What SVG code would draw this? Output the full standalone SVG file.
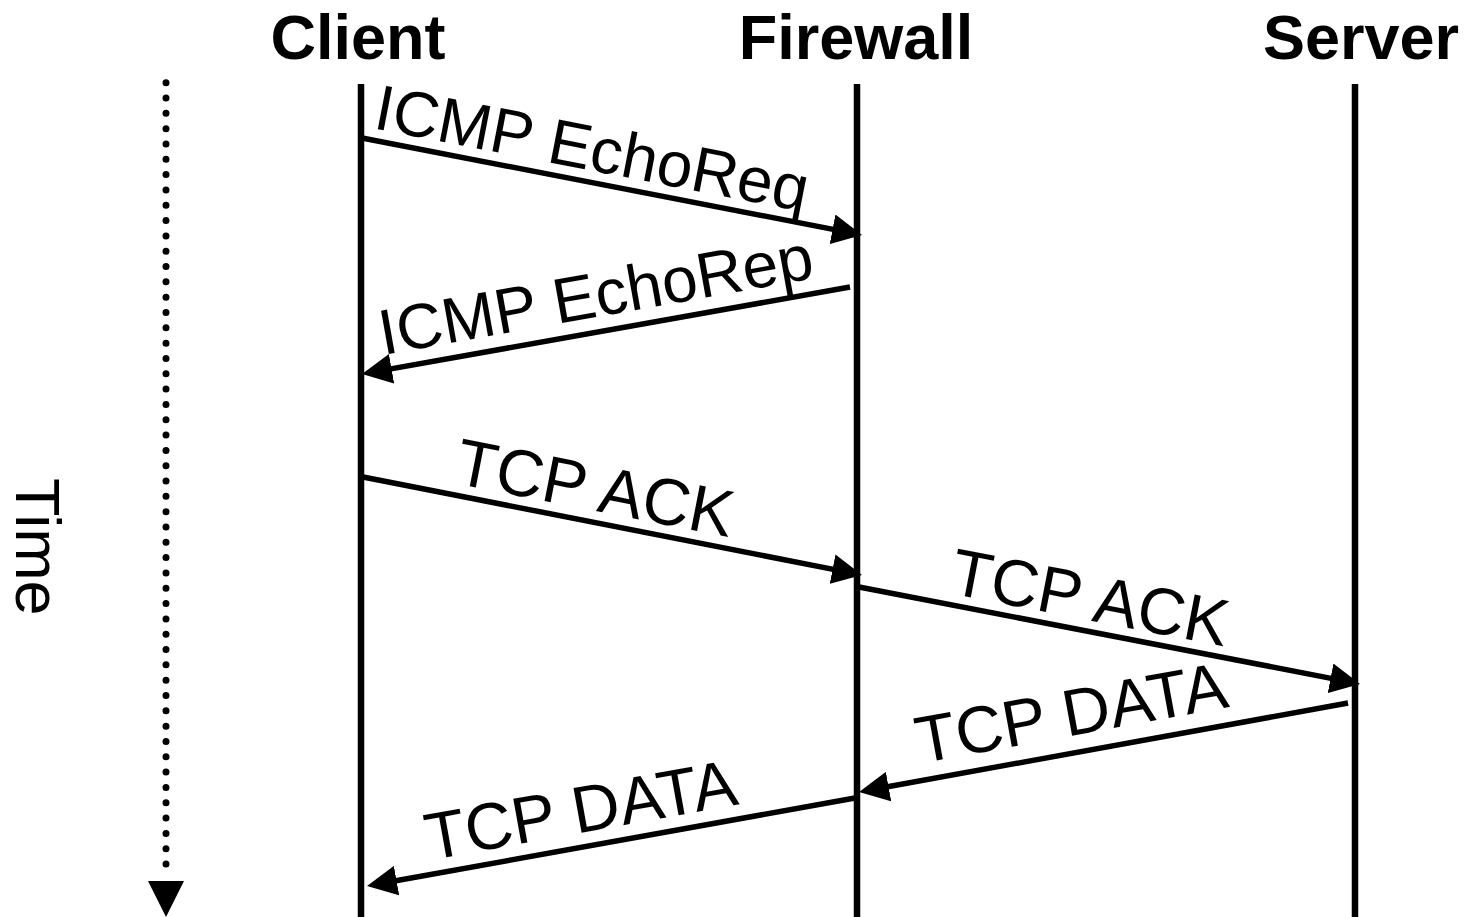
<svg xmlns="http://www.w3.org/2000/svg" width="1466" height="917" viewBox="0 0 1466 917">
  <style>
    .title { font-family: "Liberation Sans", Arial, sans-serif; font-weight: bold; font-size: 63px; fill: #000; text-anchor: middle; }
    .lbl { font-family: "Liberation Sans", Arial, sans-serif; font-size: 66px; fill: #000; }
    .icmp { font-size: 64px; }
    .time { font-family: "Liberation Sans", Arial, sans-serif; font-size: 63px; fill: #000; }
    .life { stroke: #000; stroke-width: 6.5; fill: none; }
    .msg { stroke: #000; stroke-width: 5.5; fill: none; marker-end: url(#ah); }
  </style>
  <defs>
    <marker id="ah" markerUnits="userSpaceOnUse" markerWidth="30" markerHeight="30" refX="15" refY="15" orient="auto" viewBox="0 0 30 30">
      <path d="M0,0 L30,15 L0,30 z" fill="#000"/>
    </marker>
  </defs>
  <rect width="1466" height="917" fill="#fff"/>

  <g id="time">
    <line x1="166" y1="82.7" x2="166" y2="879.3" stroke="#000" stroke-width="7" stroke-linecap="round" stroke-dasharray="0 15.32"/>
    <polygon points="148,881 184,881 166,917" fill="#000"/>
    <text class="time" transform="translate(16,478) rotate(90)">Time</text>
  </g>

  <g id="client">
    <text class="title" x="358" y="59">Client</text>
    <line class="life" x1="361" y1="84" x2="361" y2="917"/>
  </g>
  <g id="firewall">
    <text class="title" x="856" y="59">Firewall</text>
    <line class="life" x1="857" y1="84" x2="857" y2="917"/>
  </g>
  <g id="server">
    <text class="title" x="1361" y="59">Server</text>
    <line class="life" x1="1355" y1="84" x2="1355" y2="917"/>
  </g>

  <g id="connectors">
    <line class="msg" x1="362" y1="138" x2="847.3" y2="232.1"/>
    <line class="msg" x1="850" y1="287" x2="376.8" y2="371.4"/>
    <line class="msg" x1="363" y1="477" x2="847.3" y2="572.1"/>
    <line class="msg" x1="859" y1="587" x2="1345.3" y2="681.1"/>
    <line class="msg" x1="1348" y1="703" x2="873.8" y2="789.3"/>
    <line class="msg" x1="855" y1="798" x2="381.8" y2="883.3"/>
  </g>

  <g id="labels">
    <text class="lbl icmp" transform="translate(372,128) rotate(10.98)">ICMP EchoReq</text>
    <text class="lbl icmp" transform="translate(383,355) rotate(-10.11)">ICMP EchoRep</text>
    <text class="lbl" transform="translate(453,483) rotate(11.11)">TCP ACK</text>
    <text class="lbl" transform="translate(948,593) rotate(10.95)">TCP ACK</text>
    <text class="lbl" transform="translate(920,763.5) rotate(-10.36)">TCP DATA</text>
    <text class="lbl" transform="translate(429.5,860.2) rotate(-10.22)">TCP DATA</text>
  </g>
</svg>
